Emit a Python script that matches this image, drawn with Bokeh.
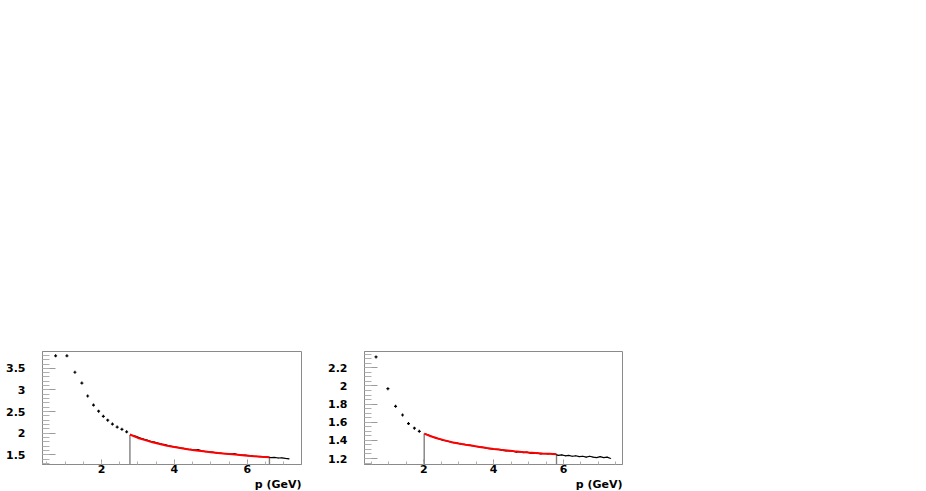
from bokeh.plotting import figure
from bokeh.layouts import row
from bokeh.models import Range1d, FixedTicker, Title
from bokeh.embed import file_html
from bokeh.resources import INLINE
import numpy as np

# ---------------- data: left panel ----------------
p1_xlim = (0.38, 7.49)
p1_ylim = (1.275, 3.89)
p1_xticks = [2, 4, 6]
p1_xtick_labels = ["2", "4", "6"]
p1_yticks = [1.5, 2.0, 2.5, 3.0, 3.5]
p1_ytick_labels = ["1.5", "2", "2.5", "3", "3.5"]

p1_sparse_x = [0.74, 1.05, 1.27, 1.46, 1.62, 1.78, 1.92, 2.05, 2.17, 2.30, 2.43, 2.56, 2.69]
p1_sparse_y = [3.79, 3.79, 3.41, 3.16, 2.86, 2.65, 2.51, 2.39, 2.30, 2.21, 2.14, 2.09, 2.03]

p1_dense_x = [2.85, 2.95, 3.05, 3.15, 3.25, 3.35, 3.45, 3.55, 3.65, 3.75, 3.85, 3.95,
              4.05, 4.15, 4.25, 4.35, 4.45, 4.55, 4.65, 4.75, 4.85, 4.95, 5.05, 5.15,
              5.25, 5.35, 5.45, 5.55, 5.65, 5.75, 5.85, 5.95, 6.05, 6.15, 6.25, 6.35,
              6.45, 6.55, 6.65, 6.75, 6.85, 6.95, 7.05, 7.15]
p1_dense_y = [1.95, 1.925, 1.89, 1.865, 1.84, 1.81, 1.795, 1.77, 1.75, 1.735, 1.71, 1.69,
              1.675, 1.66, 1.65, 1.63, 1.625, 1.61, 1.62, 1.59, 1.575, 1.57, 1.56, 1.545,
              1.54, 1.53, 1.525, 1.515, 1.53, 1.50, 1.49, 1.49, 1.48, 1.47, 1.465, 1.455,
              1.45, 1.445, 1.435, 1.44, 1.425, 1.43, 1.415, 1.405]
p1_dense_err = 0.008

p1_fit_x = [2.78, 3.0, 3.2, 3.4, 3.6, 3.8, 4.0, 4.2, 4.4, 4.6, 4.8, 5.0, 5.2, 5.4,
            5.6, 5.8, 6.0, 6.2, 6.4, 6.61]
p1_fit_y = [1.97, 1.89, 1.84, 1.79, 1.75, 1.71, 1.68, 1.65, 1.62, 1.60, 1.58, 1.56,
            1.54, 1.525, 1.51, 1.495, 1.48, 1.465, 1.452, 1.44]

# ---------------- data: right panel ----------------
p2_xlim = (0.30, 7.69)
p2_ylim = (1.134, 2.38)
p2_xticks = [2, 4, 6]
p2_xtick_labels = ["2", "4", "6"]
p2_yticks = [1.2, 1.4, 1.6, 1.8, 2.0, 2.2]
p2_ytick_labels = ["1.2", "1.4", "1.6", "1.8", "2", "2.2"]

p2_sparse_x = [0.63, 0.97, 1.19, 1.39, 1.56, 1.73, 1.87]
p2_sparse_y = [2.32, 1.97, 1.775, 1.68, 1.585, 1.535, 1.50]

p2_dense_x = [2.05, 2.15, 2.25, 2.35, 2.45, 2.55, 2.65, 2.75, 2.85, 2.95, 3.05, 3.15,
              3.25, 3.35, 3.45, 3.55, 3.65, 3.75, 3.85, 3.95, 4.05, 4.15, 4.25, 4.35,
              4.45, 4.55, 4.65, 4.75, 4.85, 4.95, 5.05, 5.15, 5.25, 5.35, 5.45, 5.55,
              5.65, 5.75, 5.85, 5.95, 6.05, 6.15, 6.25, 6.35, 6.45, 6.55, 6.65, 6.75,
              6.85, 6.95, 7.05, 7.15, 7.25, 7.35]
p2_dense_y = [1.47, 1.455, 1.44, 1.425, 1.415, 1.40, 1.395, 1.385, 1.375, 1.37, 1.36, 1.355,
              1.35, 1.345, 1.335, 1.33, 1.325, 1.32, 1.31, 1.305, 1.30, 1.30, 1.29, 1.285,
              1.285, 1.28, 1.27, 1.275, 1.265, 1.27, 1.26, 1.255, 1.26, 1.25, 1.255, 1.25,
              1.255, 1.25, 1.235, 1.24, 1.23, 1.235, 1.225, 1.23, 1.22, 1.225, 1.215, 1.225,
              1.215, 1.21, 1.22, 1.21, 1.215, 1.20]
p2_dense_err = 0.004

p2_fit_x = [2.01, 2.2, 2.4, 2.6, 2.8, 3.0, 3.2, 3.4, 3.6, 3.8, 4.0, 4.2, 4.4, 4.6,
            4.8, 5.0, 5.2, 5.4, 5.6, 5.8]
p2_fit_y = [1.474, 1.445, 1.42, 1.40, 1.38, 1.365, 1.352, 1.34, 1.328, 1.315, 1.305,
            1.296, 1.288, 1.28, 1.273, 1.266, 1.261, 1.256, 1.252, 1.248]

x_title = "p (GeV)"

FONT = "DejaVu Sans"


def style_axis(ax, major_in, minor_in, standoff):
    ax.axis_line_color = "#8a8a8a"
    ax.axis_line_width = 1
    ax.major_tick_line_color = "#9a9a9a"
    ax.minor_tick_line_color = "#b0b0b0"
    ax.major_tick_in = major_in
    ax.major_tick_out = 0
    ax.minor_tick_in = minor_in
    ax.minor_tick_out = 0
    ax.major_label_standoff = standoff
    ax.major_label_text_font = FONT
    ax.major_label_text_font_style = "bold"
    ax.major_label_text_font_size = "11px"
    ax.major_label_text_color = "black"


def make_panel(xlim, ylim, xticks, xlabels, yticks, ylabels, yminor_step,
               sx, sy, dx, dy, derr, fx, fy, border_left, frame_w, border_right):
    p = figure(output_backend="svg", toolbar_location=None,
               frame_width=frame_w, frame_height=113,
               min_border_left=border_left, min_border_right=border_right,
               min_border_top=351, min_border_bottom=26,
               x_range=Range1d(*xlim), y_range=Range1d(*ylim))
    p.grid.visible = False
    p.outline_line_color = "#8a8a8a"
    p.outline_line_width = 1
    p.background_fill_color = "white"
    p.border_fill_color = "white"

    xminor = list(np.round(np.arange(0.5, xlim[1], 0.5), 3))
    p.xaxis.ticker = FixedTicker(ticks=xticks, minor_ticks=xminor)
    p.xaxis.major_label_overrides = {float(t): l for t, l in zip(xticks, xlabels)}
    style_axis(p.xaxis[0], 5, 3, 0)

    start = np.ceil(ylim[0] / yminor_step) * yminor_step
    yminor = list(np.round(np.arange(start, ylim[1], yminor_step), 3))
    p.yaxis.ticker = FixedTicker(ticks=yticks, minor_ticks=yminor)
    p.yaxis.major_label_overrides = {float(t): l for t, l in zip(yticks, ylabels)}
    style_axis(p.yaxis[0], 13, 7, 17)

    # dotted fit-range markers
    p.segment(x0=[fx[0], fx[-1]], y0=[ylim[0], ylim[0]],
              x1=[fx[0], fx[-1]], y1=[fy[0], fy[-1]],
              line_color="black", line_width=1.4, line_dash="1 1")

    # data
    p.scatter(sx, sy, marker="cross", size=3, line_width=1.2, color="black")
    dy_lo = [v - derr for v in dy]
    dy_hi = [v + derr for v in dy]
    p.segment(x0=dx, y0=dy_lo, x1=dx, y1=dy_hi, line_color="black", line_width=1)
    p.line(dx, dy, line_color="black", line_width=1.2)

    # fit
    p.line(fx, fy, line_color="#ff0000", line_width=2)

    t = Title(text=x_title, align="right", text_font=FONT, text_font_style="bold",
              text_font_size="11px", text_color="black", standoff=0, offset=0)
    p.add_layout(t, "below")
    return p


p1 = make_panel(p1_xlim, p1_ylim, p1_xticks, p1_xtick_labels, p1_yticks, p1_ytick_labels, 0.1,
                p1_sparse_x, p1_sparse_y, p1_dense_x, p1_dense_y, p1_dense_err,
                p1_fit_x, p1_fit_y, 42, 259, 19)
p2 = make_panel(p2_xlim, p2_ylim, p2_xticks, p2_xtick_labels, p2_yticks, p2_ytick_labels, 0.05,
                p2_sparse_x, p2_sparse_y, p2_dense_x, p2_dense_y, p2_dense_err,
                p2_fit_x, p2_fit_y, 44, 258, 10)

layout = row(p1, p2)

open("out.html", "w").write(file_html(layout, INLINE))
